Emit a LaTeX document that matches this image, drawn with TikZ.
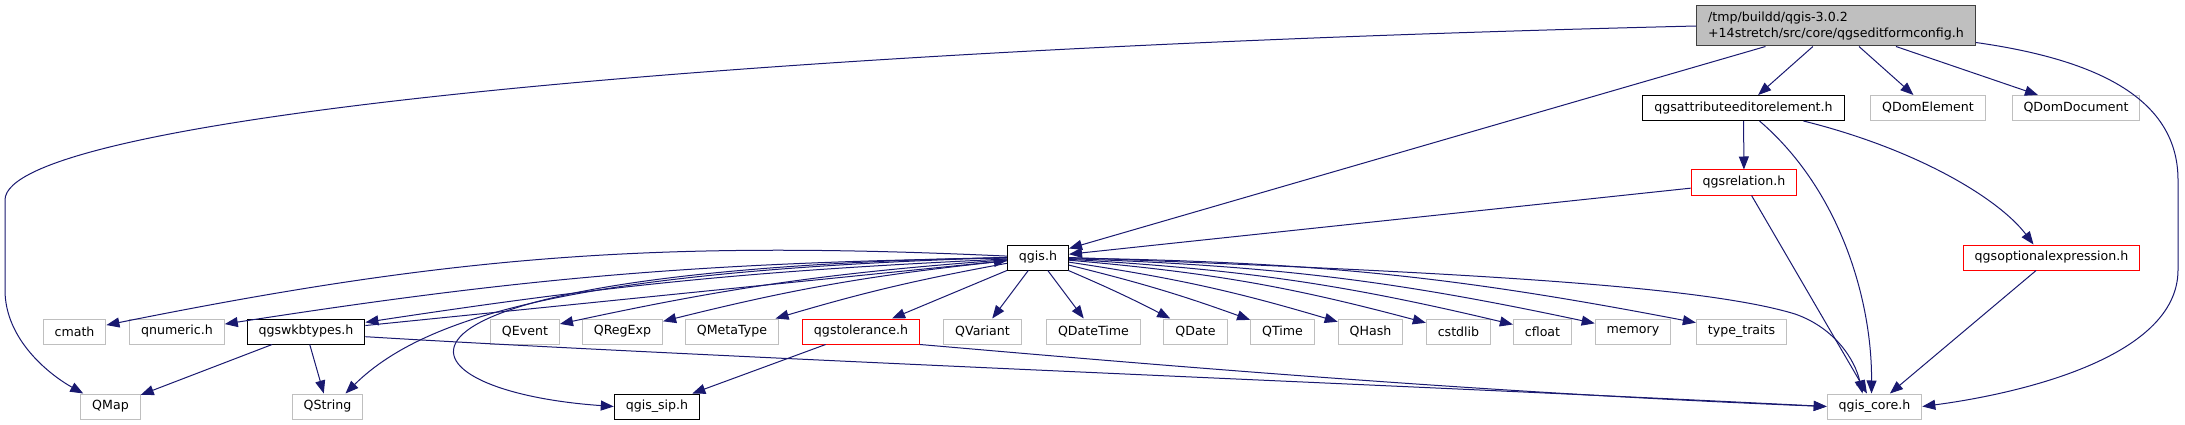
\documentclass[tikz,border=0pt]{standalone}
\usepackage{fontspec}
\setmainfont{DejaVu Sans}
\usetikzlibrary{arrows.meta}
\definecolor{edgecol}{RGB}{25, 25, 112}
\definecolor{extcol}{RGB}{191, 191, 191}
\definecolor{maincol}{RGB}{191, 191, 191}
\tikzset{
  hdr/.style={draw, fill=white, line width=1pt, minimum height=25pt, inner xsep=11.5pt,
              inner ysep=0pt, font=\fontsize{12.6}{15.5}\selectfont},
  incfile/.style={hdr, draw=black},
  extfile/.style={hdr, draw=extcol},
  redfile/.style={hdr, draw=red},
  mainfile/.style={hdr, draw=black!75, fill=maincol, minimum height=40pt, align=left},
  dep/.style={edgecol, line width=1pt, -{Triangle[length=13pt, width=10pt]}},
}

\begin{document}
\begin{tikzpicture}[x=1pt, y=-1pt]
  \fill[white] (0,0) rectangle (2185,425);
  \useasboundingbox (0,0) rectangle (2185,425);

  \node[mainfile] (cfg)    at (1836,26)    {/tmp/buildd/qgis-3.0.2\\+14stretch/src/core/qgseditformconfig.h};
  \node[incfile]  (attr)   at (1743.5,108) {qgsattributeeditorelement.h};
  \node[extfile]  (domel)  at (1928,108)   {QDomElement};
  \node[extfile]  (domdoc) at (2076,108)   {QDomDocument};
  \node[redfile]  (rel)    at (1744,182.5) {qgsrelation.h};
  \node[incfile]  (qgis)   at (1038,257.5) {qgis.h};
  \node[redfile]  (opt)    at (2051.5,257.5) {qgsoptionalexpression.h};

  \node[incfile]  (wkb)    at (306,331.5)  {qgswkbtypes.h};
  \node[redfile]  (tol)    at (861,331.5)  {qgstolerance.h};
  \foreach \n/\x/\t in {cmath/74.5/cmath, qnum/177/qnumeric.h, qevent/525/QEvent,
      qregexp/622.5/QRegExp, qmeta/732/QMetaType, qvariant/982.5/QVariant,
      qdatetime/1093.5/QDateTime, qdate/1195.5/QDate, qtime/1282.5/QTime,
      qhash/1370.5/QHash, cstdlib/1458.5/cstdlib, cfloat/1542.5/cfloat,
      memory/1633/memory, traits/1741.5/type\_traits}
    \node[extfile] (\n) at (\x,331.5) {\t};

  \node[extfile]  (qmap)    at (110.5,406.5)  {QMap};
  \node[extfile]  (qstring) at (327.5,406.5)  {QString};
  \node[incfile]  (sip)     at (657,406.5)    {qgis\_sip.h};
  \node[extfile]  (core)    at (1874.5,406.5) {qgis\_core.h};

  % edges of the edited file
  \draw[dep] (cfg.west) .. controls (700,50) and (5,120) .. (5,200) -- (5,290)
             .. controls (5,340) and (50,375) .. ([xshift=3pt]qmap.north west);
  \draw[dep] (cfg) -- (qgis);
  \draw[dep] (cfg) -- (attr);
  \draw[dep] (cfg) -- (domel);
  \draw[dep] (cfg) -- (domdoc);
  \draw[dep] ([yshift=4pt]cfg.south east) .. controls (2100,60) and (2178,100) .. (2178,180)
             -- (2178,270) .. controls (2178,360) and (2010,395) .. (core.east);

  \draw[dep] (attr) -- (rel);
  \draw[dep] ([xshift=16pt]attr.south) .. controls (1840,190) and (1872,300) .. ([xshift=-3pt]core.north);
  \draw[dep] ([xshift=60pt]attr.south) .. controls (1920,150) and (2000,200) .. ([xshift=-18pt]opt.north);
  \draw[dep] (rel) -- (qgis);
  \draw[dep] (rel) -- (core);
  \draw[dep] (opt) -- (core);

  % qgis.h fan out
  \foreach \n/\b in {cmath/7, qnum/4, wkb/3, qevent/4, qregexp/4, qmeta/3, tol/0, qvariant/0, qdatetime/0}
    \draw[dep] (qgis) to[bend right=\b] (\n);
  \foreach \n/\b in {qdate/2, qtime/3, qhash/4, cstdlib/5, cfloat/5, memory/5, traits/5}
    \draw[dep] (qgis) to[bend left=\b] (\n);
  \draw[dep] (qgis.west) .. controls (600,270) and (430,310) .. ([xshift=18pt]qstring.north);
  \draw[dep] (qgis.west) .. controls (330,270) and (380,390) .. (sip.west);
  \draw[dep] (qgis.east) .. controls (1450,272) and (1700,285) .. (1795,314)
             .. controls (1835,328) and (1855,360) .. ([xshift=-12pt]core.north);

  \draw[dep] (wkb) -- (qgis);
  \draw[dep] (wkb) -- (qmap);
  \draw[dep] (wkb) -- (qstring);
  \draw[dep] (wkb.-5) .. controls (700,357) and (1400,385) .. (core.west);
  \draw[dep] (tol) -- (sip);
  \draw[dep] (tol.south east) .. controls (1100,360) and (1460,392) .. (core.west);
\end{tikzpicture}
\end{document}
